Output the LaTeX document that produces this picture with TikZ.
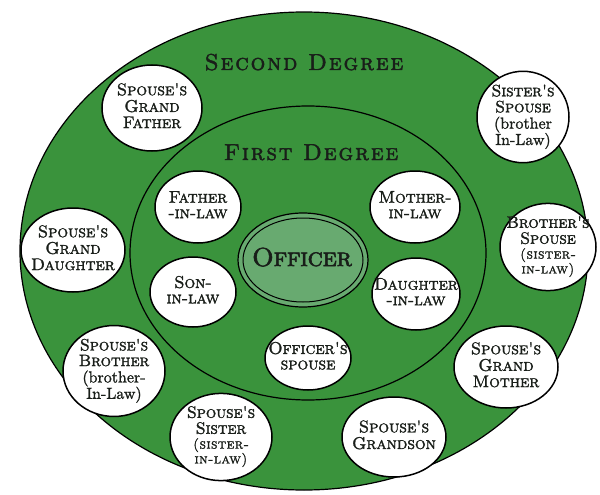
\documentclass[tikz,border=0pt]{standalone}
\usepackage{fontspec}
\usetikzlibrary{shapes.geometric}
\definecolor{ringgreen}{RGB}{58,147,60}
\definecolor{offgreen}{RGB}{104,170,112}
\definecolor{inkdark}{RGB}{25,30,25}
\newfontfamily\capsA{lmromancaps10-regular}[Extension=.otf, LetterSpace=-1, FakeBold=1.5]
\newfontfamily\capsS{lmromancaps10-regular}[Extension=.otf, LetterSpace=3, FakeBold=1.3]
\newfontfamily\capsT{lmromancaps10-regular}[Extension=.otf, LetterSpace=8, FakeBold=2]
\newfontfamily\capsO{lmromancaps10-regular}[Extension=.otf, LetterSpace=-2, FakeBold=2.2]
\newfontfamily\lowA{lmroman10-regular}[Extension=.otf, FakeBold=1.3]
\newcommand\cgfont{\capsA\fontsize{17}{15.5}\selectfont}
\newcommand\cgfour{\capsA\fontsize{16.5}{14.5}\selectfont}
\newcommand\cgsmall{\capsS\fontsize{14}{12.5}\selectfont}
\newcommand\cglow{\lowA\fontsize{16}{13.5}\selectfont}
\newcommand\cgtitle{\capsT\fontsize{23}{23}\selectfont}
\newcommand\cgoff{\capsO\fontsize{26}{26}\selectfont}
\newcommand\bt[1]{\makebox[0pt]{\begin{tabular}{@{}c@{}}#1\end{tabular}}}
\begin{document}
\begin{tikzpicture}[x=1pt,y=-1pt,
  bubble/.style={ellipse, draw=black, line width=1.5pt, fill=white, inner sep=0pt, font=\cgfont, text=inkdark},
  ring/.style={ellipse, draw=black, line width=1.2pt, fill=ringgreen, inner sep=0pt},
  sz/.style 2 args={minimum width={2*#1}, minimum height={2*#2}},
  title/.style={font=\cgtitle, text=inkdark, inner sep=0pt, anchor=base}]
\useasboundingbox (0,0) rectangle (600,495);
\node[ring, sz={284}{239}] (second) at (304,251) {};
\node[ring, sz={178}{147}] (first) at (308,253) {};
\node[ring, sz={65}{47}, fill=offgreen] (officerring) at (303,260) {};
\node[ellipse, draw=black, line width=1pt, sz={60}{42}, inner sep=0pt] (officer) at (303,260) {};
\node[font=\cgoff, text=inkdark, inner sep=0pt, anchor=base] (officerlabel) at (302,266) {Officer};
\node[title] (secondlabel) at (304,70) {Second Degree};
\node[title] (firstlabel) at (311,160) {First Degree};
% first degree
\node[bubble, sz={43}{36}] (fil) at (198,207) {\bt{Father\\-in-law}};
\node[bubble, sz={43}{35}] (sil) at (193,292) {\bt{Son-\\in-law}};
\node[bubble, sz={45}{36}] (mil) at (415,207) {\bt{Mother-\\in-law}};
\node[bubble, sz={44}{36}] (dil) at (416,294) {\bt{Daughter\\-in-law}};
\node[bubble, sz={43}{32}] (osp) at (308,358) {\bt{Officer's\\spouse}};
% second degree
\node[bubble, sz={50}{43}] (sgf) at (152,108) {\bt{Spouse's\\Grand\\Father}};
\node[bubble, sz={46}{43}, font=\cgfour] (ssp) at (523,117) {\bt{Sister's\\Spouse\\{\cglow(brother}\\{\cglow In-Law)}}};
\node[bubble, sz={52}{42}] (sgd) at (73,250) {\bt{Spouse's\\Grand\\Daughter}};
\node[bubble, sz={48}{42}, font=\cgfour] (bsp) at (548,247) {\bt{Brother's\\Spouse\\{\cgsmall(sister-}\\{\cgsmall in-law)}}};
\node[bubble, sz={51}{41}, font=\cgfour] (sbr) at (114,371) {\bt{Spouse's\\Brother\\{\cglow(brother-}\\{\cglow In-Law)}}};
\node[bubble, sz={51}{40}, font=\cgfour] (sss) at (221,437) {\bt{Spouse's\\Sister\\{\cgsmall(sister-}\\{\cgsmall in-law)}}};
\node[bubble, sz={52}{41}] (sgm) at (506,367) {\bt{Spouse's\\Grand\\Mother}};
\node[bubble, sz={52}{40}] (sgs) at (394,437) {\bt{Spouse's\\Grandson}};
\end{tikzpicture}
\end{document}
